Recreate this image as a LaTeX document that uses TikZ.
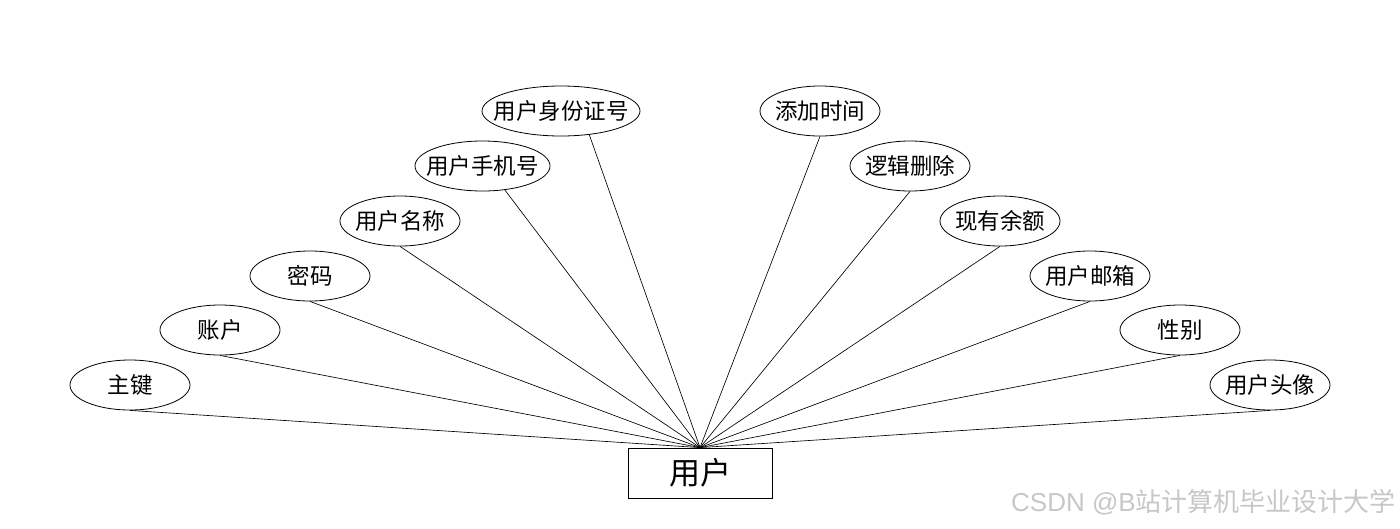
\documentclass[tikz,border=0pt]{standalone}
\usepackage{fontspec}
\setmainfont{Noto Sans CJK SC}
\newfontfamily\wmlatin{Liberation Sans}
\usetikzlibrary{shapes.geometric,calc}
\newcommand{\zb}[1]{\makebox[0pt]{#1}}
\begin{document}
\begin{tikzpicture}[x=1pt,y=-1pt,
  attr/.style={ellipse,draw,line width=0.8pt,minimum width=120pt,minimum height=50pt,inner sep=0pt,font=\fontsize{22.5}{22.5}\selectfont},
  ent/.style={rectangle,draw,line width=0.8pt,minimum width=144pt,minimum height=50pt,inner sep=0pt,font=\fontsize{31}{31}\selectfont},
  link/.style={draw,line width=0.65pt}]
\useasboundingbox (0,0) rectangle (1400,528);
\node[ent] (user) at (700,473) {用户};
\node[attr] (a1) at (130,385) {\zb{主键}};
\node[attr] (a2) at (220,330) {\zb{账户}};
\node[attr] (a3) at (310,276) {\zb{密码}};
\node[attr] (a4) at (400,221) {\zb{用户名称}};
\node[attr,minimum width=135pt] (a5) at (482.5,166) {\zb{用户手机号}};
\node[attr,minimum width=158pt] (a6) at (561,111) {\zb{用户身份证号}};
\node[attr] (b1) at (820,111) {\zb{添加时间}};
\node[attr] (b2) at (910,166) {\zb{逻辑删除}};
\node[attr] (b3) at (1000,221) {\zb{现有余额}};
\node[attr] (b4) at (1090,276) {\zb{用户邮箱}};
\node[attr] (b5) at (1180,330) {\zb{性别}};
\node[attr] (b6) at (1270,385) {\zb{用户头像}};
\coordinate (hub) at (user.north);
\draw[link] (a1.south) -- (hub);
\draw[link] (a2.south) -- (hub);
\draw[link] (a3.south) -- (hub);
\draw[link] (a4.south) -- (hub);
\draw[link] (a5.-47) -- (hub);
\draw[link] (a6.-40) -- (hub);
\draw[link] (b1.south) -- (hub);
\draw[link] (b2.south) -- (hub);
\draw[link] (b3.south) -- (hub);
\draw[link] (b4.south) -- (hub);
\draw[link] (b5.south) -- (hub);
\draw[link] (b6.south) -- (hub);
\node[anchor=east,text=black!22,font=\fontsize{26}{26}\selectfont,inner sep=0pt] (wm) at (1396,502) {{\wmlatin CSDN @B}站计算机毕业设计大学};
\end{tikzpicture}
\end{document}
